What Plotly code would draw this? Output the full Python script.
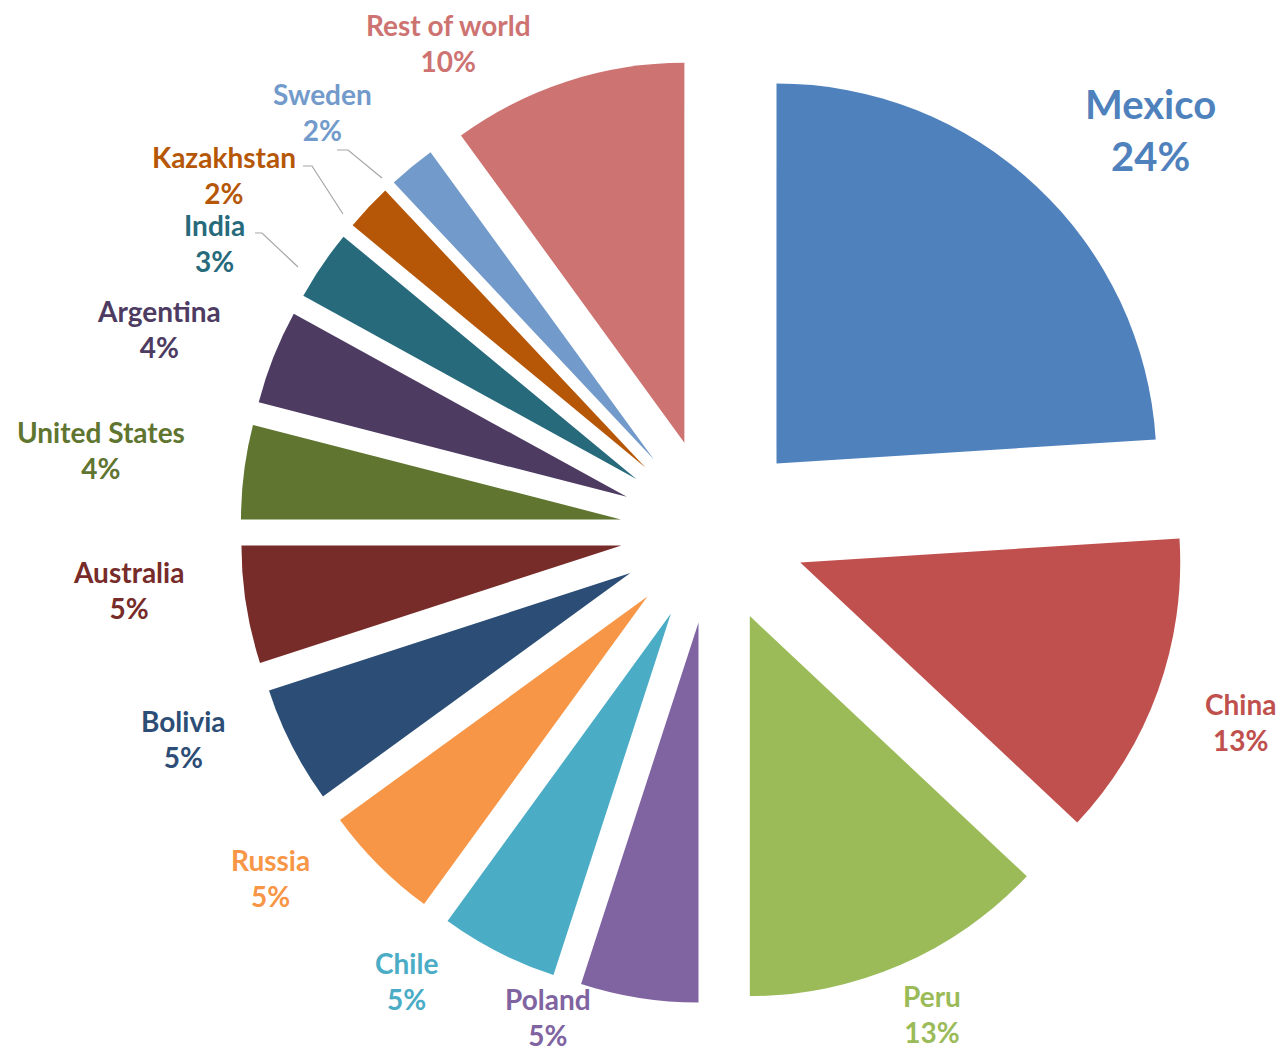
import plotly.graph_objects as go

countries = ["Mexico", "China", "Peru", "Poland", "Chile", "Russia", "Bolivia",
             "Australia", "United States", "Argentina", "India", "Kazakhstan",
             "Sweden", "Rest of world"]
shares = [24, 13, 13, 5, 5, 5, 5, 5, 4, 4, 3, 2, 2, 10]

colors = ["#4F81BD", "#C0504D", "#9BBB59", "#8064A2", "#4BACC6", "#F79646", "#2C4D75",
          "#772C2A", "#5F7530", "#4D3B62", "#276A7C", "#B65708", "#729ACA", "#CD7371"]

# ---- layout / styling (pixel positions in page coordinates) ----
PAGE_W, PAGE_H = 1286, 1064
BODY = 8                          # default body margin of the html page
W, H = PAGE_W - 2 * BODY, PAGE_H - 2 * BODY


def px(x, y):
    """page pixel -> paper fraction of the figure"""
    return (x - BODY) / W, 1 - (y - BODY) / H


cx, cy = 713, 531                 # pie centre (page px)
radius, pull = 380, 0.244
half = radius * (1 + pull)

label_pos = [(1150, 130), (1240, 722), (932, 1014), (548, 1017), (406, 981),
             (270, 878), (183, 739), (128, 590), (101, 450), (159, 329),
             (214, 243), (224, 175), (322, 112), (448, 43)]
label_size = [40, 28, 28, 28, 28, 28, 28, 28, 28, 28, 28, 28, 28, 28]
leaders = {  # label index -> polyline points (page px)
    12: [(337, 150), (348, 150), (382, 178)],
    11: [(303, 166), (312, 166), (343, 214)],
    10: [(255, 233), (262, 233), (298, 267)],
}

x0, y1 = px(cx - half, cy - half)
x1, y0 = px(cx + half, cy + half)

fig = go.Figure(go.Pie(
    labels=countries,
    values=shares,
    sort=False,
    direction="clockwise",
    rotation=0,
    pull=pull,
    marker=dict(colors=colors, line=dict(width=0)),
    textinfo="none",
    hoverinfo="label+percent",
    showlegend=False,
    domain=dict(x=[x0, x1], y=[y0, y1]),
))

annotations = []
for name, val, col, (lx, ly), fs in zip(countries, shares, colors, label_pos, label_size):
    ax, ay = px(lx, ly)
    annotations.append(dict(
        x=ax, y=ay, xref="paper", yref="paper",
        xanchor="center", yanchor="middle", showarrow=False,
        text=f"<b>{name}</b><br><b>{val}%</b>",
        font=dict(family="Lato", size=fs, color=col),
    ))

shapes = []
for idx, pts in leaders.items():
    path = "M " + " L ".join("{:.5f},{:.5f}".format(*px(x, y)) for x, y in pts)
    shapes.append(dict(type="path", xref="paper", yref="paper", path=path,
                       line=dict(color="#A6A6A6", width=1.2)))

fig.update_layout(
    width=W, height=H,
    margin=dict(l=0, r=0, t=0, b=0),
    paper_bgcolor="white",
    plot_bgcolor="white",
    annotations=annotations,
    shapes=shapes,
)

fig.write_html("out.html")
